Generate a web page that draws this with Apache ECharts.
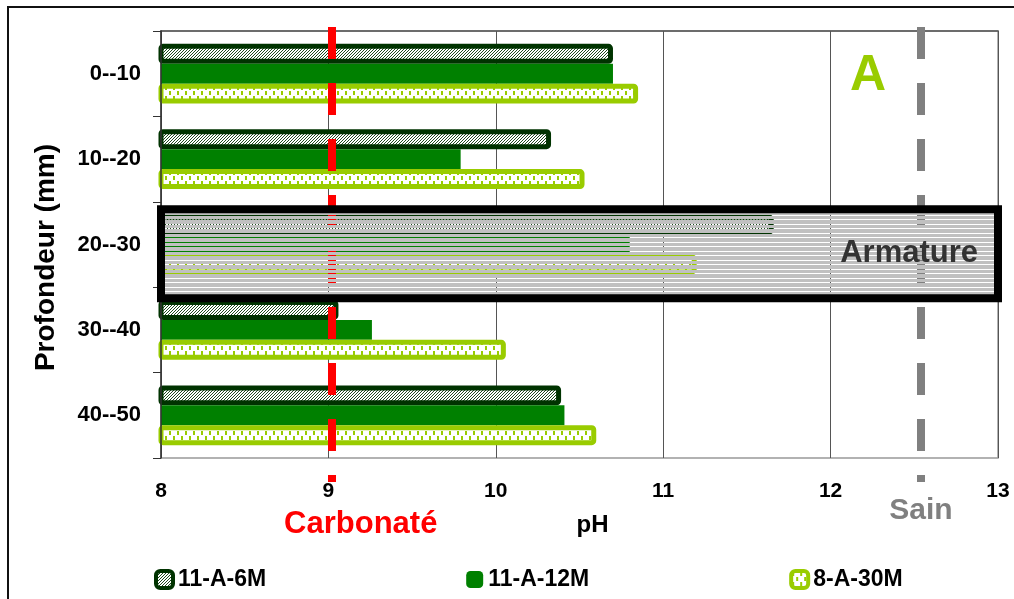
<!DOCTYPE html>
<html>
<head>
<meta charset="utf-8">
<title>pH profondeur A</title>
<script src="https://cdn.jsdelivr.net/npm/echarts@6/dist/echarts.min.js"></script>
<style>
  html, body { margin: 0; padding: 0; background: #fff; overflow: hidden; }
  .wrap { position: relative; width: 1014px; height: 599px; }
  .main { width: 1014px; height: 599px; }
  /* cadre noir de la figure, coupé à droite et en bas */
  .frame {
    position: absolute; left: 7px; top: 6px; width: 1100px; height: 700px;
    border-left: 2px solid #111; border-top: 2px solid #111;
    pointer-events: none;
  }
</style>
</head>
<body>
<div class="wrap">
  <div class="main" id="chart"></div>
  <div class="frame"></div>
</div>
<script>
// profondeurs (mm)
var depths = ['0--10', '10--20', '20--30', '30--40', '40--50'];
// pH mesurés
var ph6M = [10.70, 10.33, 11.66, 9.06, 10.39];
var ph12M = [10.70, 9.79, 10.80, 9.26, 10.41];
var ph30M = [10.85, 10.53, 11.20, 10.06, 10.60];
// limites
var phCarbonate = 9.02;
var phSain = 12.54;

var FONT = "'Liberation Sans', Arial, sans-serif";

function makePattern(w, h, draw) {
  var c = document.createElement('canvas');
  c.width = w;
  c.height = h;
  draw(c.getContext('2d'));
  return { image: c, repeat: 'repeat' };
}

// hachures fines 11-A-6M
var hatch6M = makePattern(3, 3, function (ctx) {
  ctx.fillStyle = '#ffffff';
  ctx.fillRect(0, 0, 3, 3);
  ctx.fillStyle = '#1d4a1d';
  for (var x = 0; x < 3; x++) {
    ctx.fillRect(x, 2 - x, 1, 1);
  }
});

// petits tirets 8-A-30M
var dots30M = makePattern(8, 10, function (ctx) {
  ctx.fillStyle = '#ffffff';
  ctx.fillRect(0, 0, 8, 10);
  ctx.fillStyle = '#99cc00';
  ctx.fillRect(1, 1, 2, 4);
  ctx.fillRect(5, 6, 2, 4);
});

// rayures de la zone armature (gris + fentes transparentes)
var stripes = makePattern(8, 9, function (ctx) {
  ctx.fillStyle = '#c0c0c0';
  ctx.fillRect(0, 0, 8, 3);
  ctx.fillRect(0, 4, 8, 4);
});

var myChart = echarts.init(document.getElementById('chart'));

myChart.setOption({
  animation: false,
  backgroundColor: '#fff',
  textStyle: { fontFamily: FONT },
  grid: [
    {
      left: 161,
      right: 16,
      top: 31,
      bottom: 141,
      containLabel: false,
      outerBoundsMode: 'none',
      show: true,
      borderColor: '#999',
      borderWidth: 1.5,
      backgroundColor: 'transparent'
    },
    {
      // grille cachée un peu plus haute : les lignes pointillées dépassent du tracé
      left: 161,
      right: 16,
      top: 27,
      bottom: 117,
      containLabel: false,
      outerBoundsMode: 'none',
      show: false
    }
  ],
  legend: {
    left: 149,
    top: 563,
    itemGap: 200,
    itemWidth: 17,
    itemHeight: 17,
    icon: 'roundRect',
    textStyle: { fontSize: 23, fontWeight: 'bold', color: '#000', fontFamily: FONT },
    data: [
      { name: '11-A-6M', itemStyle: { borderWidth: 4 } },
      { name: '11-A-12M' },
      { name: '8-A-30M', itemStyle: { borderWidth: 4 } }
    ]
  },
  graphic: [
    {
      type: 'text',
      left: 850,
      top: 51,
      style: { text: 'A', fontSize: 50, fontWeight: 'bold', fill: '#99cc00', fontFamily: FONT }
    }
  ],
  xAxis: [
    {
      type: 'value',
      gridIndex: 0,
      min: 8,
      max: 13,
      interval: 1,
      name: 'pH',
      nameLocation: 'middle',
      nameGap: 55,
      nameTextStyle: { fontSize: 24, fontWeight: 'bold', color: '#000', padding: [0, 0, 0, 26] },
      axisLine: { show: true, lineStyle: { color: '#555', width: 1.5 } },
      axisTick: { show: true, length: 8, lineStyle: { color: '#555' } },
      axisLabel: { margin: 23, fontSize: 21, fontWeight: 'bold', color: '#000' },
      splitLine: { show: true, lineStyle: { color: '#555', width: 1 } }
    },
    {
      type: 'value',
      gridIndex: 1,
      min: 8,
      max: 13,
      show: false
    }
  ],
  yAxis: [
    {
      type: 'category',
      gridIndex: 0,
      data: depths,
      inverse: true,
      z: 6,
      name: 'Profondeur (mm)',
      nameLocation: 'middle',
      nameRotate: 90,
      nameGap: 101,
      nameTextStyle: { fontSize: 28, fontWeight: 'bold', color: '#000', padding: [0, 26, 0, 0] },
      axisLine: { show: true, lineStyle: { color: '#333', width: 1.5 } },
      axisTick: { show: true, length: 8, lineStyle: { color: '#333' } },
      axisLabel: { margin: 20, fontSize: 22, fontWeight: 'bold', color: '#000' },
      splitLine: { show: false }
    },
    {
      // axe caché pour placer la zone armature en continu sur les profondeurs
      type: 'value',
      gridIndex: 0,
      min: 0,
      max: depths.length,
      inverse: true,
      show: false
    },
    {
      type: 'value',
      gridIndex: 1,
      min: 0,
      max: 1,
      inverse: true,
      show: false
    }
  ],
  series: [
    {
      name: '11-A-6M',
      type: 'bar',
      data: ph6M,
      barGap: '0%',
      barCategoryGap: '30%',
      itemStyle: { color: hatch6M, borderColor: '#003300', borderWidth: 5, borderRadius: 2 }
    },
    {
      name: '11-A-12M',
      type: 'bar',
      data: ph12M,
      barGap: '0%',
      barCategoryGap: '30%',
      itemStyle: { color: '#008000' }
    },
    {
      name: '8-A-30M',
      type: 'bar',
      data: ph30M,
      barGap: '0%',
      barCategoryGap: '30%',
      itemStyle: { color: dots30M, borderColor: '#99cc00', borderWidth: 5, borderRadius: 2 }
    },
    {
      // lignes Carbonaté / Sain
      type: 'line',
      data: [],
      xAxisIndex: 1,
      yAxisIndex: 2,
      clip: false,
      silent: true,
      z: 5,
      markLine: {
        silent: true,
        symbol: 'none',
        z: 5,
        data: [
          {
            xAxis: phCarbonate,
            lineStyle: { color: '#ff0000', width: 8, type: [32, 24], cap: 'butt' },
            label: {
              show: true, position: 'end', formatter: 'Carbonaté', distance: 27,
              color: '#ff0000', fontSize: 31, fontWeight: 'bold', padding: [0, 0, 0, 58]
            }
          },
          {
            xAxis: phSain,
            lineStyle: { color: '#808080', width: 8, type: [32, 24], cap: 'butt' },
            label: {
              show: true, position: 'end', formatter: 'Sain', distance: 14,
              color: '#808080', fontSize: 30, fontWeight: 'bold'
            }
          }
        ]
      }
    },
    {
      // zone armature
      type: 'line',
      data: [],
      yAxisIndex: 1,
      clip: false,
      silent: true,
      z: 10,
      markArea: {
        silent: true,
        z: 10,
        itemStyle: { color: stripes, borderColor: '#000', borderWidth: 8 },
        label: {
          show: true, position: 'insideRight', distance: 24, formatter: 'Armature',
          color: '#333', fontSize: 31, fontWeight: 'bold'
        },
        data: [[{ coord: [8.0, 2.087] }, { coord: [13.04, 3.13] }]]
      }
    }
  ]
});
</script>
</body>
</html>
